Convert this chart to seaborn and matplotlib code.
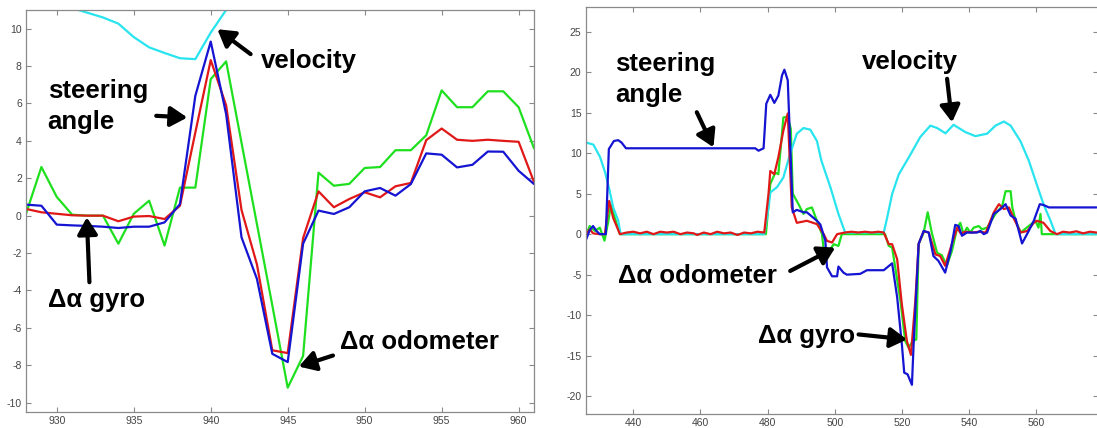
import matplotlib
matplotlib.use('Agg')
import matplotlib.pyplot as plt
import seaborn as sns

# ---- left panel: short window, one sample per step ----
left_x = list(range(928, 962))
left_odo = [0.1, 2.6, 1.0, 0.05, 0.0, 0.0, -1.5, 0.1, 0.8, -1.6, 1.5, 1.5, 7.3, 8.25,
            3.9, -0.45, -4.8, -9.2, -7.5, 2.3, 1.6, 1.7, 2.55, 2.6, 3.5, 3.5, 4.3, 6.7,
            5.8, 5.8, 6.65, 6.65, 5.8, 3.6]
left_gyro = [0.36, 0.18, 0.1, 0.02, 0.0, 0.0, -0.3, -0.05, -0.02, -0.18, 0.53, 4.45,
             8.32, 5.9, 0.3, -2.6, -7.2, -7.35, -1.2, 1.3, 0.45, 0.89, 1.25, 0.98, 1.57,
             1.75, 4.04, 4.66, 4.06, 4.0, 4.06, 4.0, 3.95, 1.8]
left_steer = [0.59, 0.53, -0.48, -0.52, -0.55, -0.59, -0.66, -0.59, -0.59, -0.36, 0.62,
              6.41, 9.31, 5.43, -1.16, -3.38, -7.39, -7.83, -1.5, 0.27, 0.09, 0.45, 1.3,
              1.48, 1.07, 1.69, 3.33, 3.26, 2.58, 2.72, 3.43, 3.42, 2.4, 1.69]
left_vel_x = list(range(931, 943))
left_vel = [11.1, 10.85, 10.6, 10.27, 9.55, 9.0, 8.7, 8.42, 8.37, 9.79, 11.0, 12.5]

# ---- right panel: longer run ----
steer_x = [426, 427, 428, 429, 430, 431.8, 432.7, 434.2, 435.5, 436.5, 437.8, 476.3,
           477.3, 478.8, 479.6, 480.8, 482, 483.2, 484.3, 485, 486, 487.5, 488.7, 490.7,
           491.7, 494.7, 495.7, 497.2, 497.7, 499.2, 500.7, 501.1, 502.6, 503.6, 507.6,
           509.6, 514.6, 517.1, 518.6, 520, 520.7, 521.7, 523, 523.5, 525, 526.5, 528,
           529.4, 530.9, 532.9, 534.5, 535.9, 536.9, 537.9, 539.4, 542.4, 543.4, 544.4,
           545.4, 547.4, 549.4, 550.9, 552.4, 553.9, 555.8, 557.8, 559.3, 561.1, 562.2,
           563.8, 578]
steer_y = [-0.6, 0.5, 1.0, 0.4, 0.0, 0.0, 10.5, 11.5, 11.6, 11.3, 10.6, 10.6,
           10.3, 10.6, 16.1, 17.2, 16.2, 17.1, 19.6, 20.3, 19.0, 2.7, 3.0, 2.7,
           2.7, 1.65, 1.2, -0.8, -4.1, -5.2, -5.2, -4.0, -4.75, -5.0, -4.9,
           -4.45, -4.45, -3.6, -7.8, -13.6, -17.1, -17.3, -18.6, -13.6, -1.2, 0.4, 0.2,
           -2.7, -3.3, -4.75, -2.1, 1.15, 1.0, -0.2, 0.2, 0.2, 0.4, 0.0,
           0.2, 2.5, 3.1, 3.7, 2.3, 1.9, -1.15, 0.4, 1.65, 3.7, 3.6,
           3.3, 3.3]

gyro_x = [426, 427, 428, 430, 431.5, 432.8, 434, 436, 438, 440, 442, 444, 446, 448, 450,
          452, 454, 456, 458, 459, 461, 463, 465, 467, 469, 471, 473, 475, 477, 479,
          480.3, 480.8, 482, 483.2, 484.7, 486, 487.2, 488.7, 491.7, 494.7, 496.7, 497.7,
          499.2, 500.7, 503, 505, 507, 509, 511, 513, 514.6, 516.1, 517.1, 518.6, 520,
          521.5, 522.7, 524, 525, 526.5, 528, 530, 531.4, 532.9, 534.9, 536.5, 537.5,
          539, 541, 543, 545, 547.4, 548.9, 550.4, 551.9, 553.4, 555.4, 557.4, 559.3,
          560.2, 562.2, 564.2, 566.2, 568, 570, 572, 574, 576, 578]
gyro_y = [0.0, 0.6, 0.1, 0.0, 0.0, 4.1, 2.0, 0.0, 0.2, 0.3, 0.1, 0.3, 0.0, 0.3, 0.2,
          0.3, 0.0, 0.2, 0.1, -0.1, 0.2, 0.0, 0.3, 0.1, 0.2, -0.1, 0.2, 0.1, 0.3, 0.2,
          5.1, 7.8, 7.4, 9.5, 12.8, 14.9, 3.3, 1.4, 1.65, 1.24, 0.0, -0.83,
          -1.03, 0.0, 0.2, 0.3, 0.2, 0.3, 0.2, 0.3, 0.2, -1.24, -1.24, -3.1, -8.7,
          -13.2, -14.9, -8.3, -1.2, 0.35, 0.2, -2.5, -2.7, -3.9, -1.2, 0.8, 0.1,
          0.3, 0.2, 0.3, 0.2, 2.7, 3.7, 3.1, 3.3, 1.9, 0.2, 0.4, 1.4,
          1.65, 1.4, 0.4, 0.0, 0.3, 0.2, 0.35, 0.1, 0.3, 0.2]

odo_x = [426, 427, 428.5, 430, 431.4, 432.5, 433.3, 434.5, 436, 479.5, 480.8, 482.3,
         483.2, 484.7, 486, 486.9, 487.5, 489.2, 490.7, 491.7, 493.2, 494.7, 496.2,
         496.7, 498.7, 499.7, 501.1, 502.1, 515, 516.1, 517.1, 519.6, 521, 522, 523.3,
         524.3, 525, 526.5, 527.7, 528.9, 530.5, 531.9, 533.4, 534.9, 536.5, 537.4,
         538.4, 539.4, 540.4, 541.4, 542.9, 543.9, 545.4, 547.9, 549.9, 550.9, 552.4,
         552.9, 553.9, 555.4, 557.8, 559.8, 560.7, 561.3, 561.7, 578]
odo_y = [0.0, 1.0, 0.4, 0.8, -0.8, 1.5, 3.6, 2.0, 0.0, 0.0, 6.2, 7.6,
         7.4, 14.4, 14.5, 13.0, 5.0, 3.7, 2.5, 3.1, 3.3, 1.65, 0.0,
         -1.86, -1.86, -1.24, -1.45, 0.0, 0.0, -1.45, -1.65, -8.3, -13.2, -14.0, -13.2,
         -13.0, -1.2, 0.2, 2.7, 0.2, -2.3, -2.6, -3.9, -2.1, 0.8, 1.4,
         0.0, 0.8, 0.2, 0.8, 1.0, 0.6, 0.8, 2.5, 3.5, 5.3, 5.3,
         3.3, 1.65, 0.2, 1.0, 1.65, 0.8, 2.5, 0.0, 0.0]

vel_x = [426, 428.1, 430.1, 431.6, 432.8, 434, 435.5, 436.2, 479, 480.3, 480.8, 482.8,
         484.7, 486.7, 488.7, 490.7, 492.7, 494.7, 496, 498.7, 501.1, 503.1, 514.6,
         515.6, 517.1, 519.1, 522.1, 525.5, 528.5, 530.5, 533, 535.4, 538.9, 541.9,
         545.4, 547.9, 550.4, 552.4, 555.3, 557.8, 560.3, 562.2, 564.3, 565.8, 578]
vel_y = [11.3, 11.05, 9.5, 7.6, 5.6, 3.3, 1.65, 0.0, 0.0, 3.3, 5.15, 5.8,
         7.0, 9.9, 12.4, 13.1, 12.9, 11.5, 9.1, 5.8, 2.5, 0.2, 0.2,
         2.0, 4.95, 7.4, 9.5, 12.0, 13.4, 13.1, 12.45, 13.5, 12.6, 12.1,
         12.4, 13.4, 13.9, 13.4, 11.5, 9.1, 6.0, 3.7, 1.65, 0.0, 0.0]

GREEN = '#1ee01e'
RED = '#e01818'
BLUE = '#1414d2'
CYAN = '#28e4ee'

sns.set_style('white')
plt.rcParams['font.family'] = ['Liberation Sans', 'DejaVu Sans']
plt.rcParams['axes.unicode_minus'] = False

fig = plt.figure(figsize=(10.97, 4.28), dpi=100)
ax1 = fig.add_axes([0.0237, 0.0374, 0.4631, 0.9393])
ax2 = fig.add_axes([0.5339, 0.0327, 0.4666, 0.9502])

lw = 1.6
sns.lineplot(x=left_vel_x, y=left_vel, ax=ax1, color=CYAN, lw=lw)
sns.lineplot(x=left_x, y=left_odo, ax=ax1, color=GREEN, lw=lw)
sns.lineplot(x=left_x, y=left_gyro, ax=ax1, color=RED, lw=lw)
sns.lineplot(x=left_x, y=left_steer, ax=ax1, color=BLUE, lw=lw)

sns.lineplot(x=odo_x, y=odo_y, ax=ax2, color=GREEN, lw=lw)
sns.lineplot(x=vel_x, y=vel_y, ax=ax2, color=CYAN, lw=lw)
sns.lineplot(x=gyro_x, y=gyro_y, ax=ax2, color=RED, lw=lw)
sns.lineplot(x=steer_x, y=steer_y, ax=ax2, color=BLUE, lw=lw)

ax1.set_xlim(928, 961)
ax1.set_ylim(-10.5, 11)
ax1.set_xticks(range(930, 961, 5))
ax1.set_yticks(range(-10, 11, 2))
ax2.set_xlim(425.8, 578.3)
ax2.set_ylim(-22.2, 28)
ax2.set_xticks(range(440, 561, 20))
ax2.set_yticks(range(-20, 26, 5))

for ax in (ax1, ax2):
    ax.set_xlabel('')
    ax.set_ylabel('')
    for s in ax.spines.values():
        s.set_color('#8a8a8a')
        s.set_linewidth(0.9)
    ax.tick_params(direction='in', length=3.5, width=0.8, color='#8a8a8a',
                   labelsize=7.5, labelcolor='#444444', top=True, right=True,
                   bottom=True, left=True, pad=3)

txt = dict(fontsize=18.5, fontweight='bold', color='black')
arr = dict(arrowstyle='-|>,head_length=0.5,head_width=0.3', lw=3, color='black',
           shrinkA=0, shrinkB=0, mutation_scale=20)

# left panel labels
ax1.text(929.4, 6.3, 'steering', **txt)
ax1.text(929.4, 4.65, 'angle', **txt)
ax1.annotate('', xy=(938.48, 5.25), xytext=(936.46, 5.34), arrowprops=arr)
ax1.text(943.24, 7.92, 'velocity', **txt)
ax1.annotate('', xy=(940.43, 9.97), xytext=(942.59, 8.64), arrowprops=arr)
ax1.text(929.4, -4.9, 'Δα gyro', **txt)
ax1.annotate('', xy=(931.95, -0.09), xytext=(932.12, -3.56), arrowprops=arr)
ax1.text(948.42, -7.12, 'Δα odometer', **txt)
ax1.annotate('', xy=(945.72, -8.07), xytext=(947.94, -7.48), arrowprops=arr)

# right panel labels
ax2.text(434.54, 20.2, 'steering', **txt)
ax2.text(434.54, 16.29, 'angle', **txt)
ax2.annotate('', xy=(463.86, 10.72), xytext=(458.9, 15.05), arrowprops=arr)
ax2.text(508.12, 20.42, 'velocity', **txt)
ax2.annotate('', xy=(534.96, 13.81), xytext=(533.47, 19.18), arrowprops=arr)
ax2.text(435.53, -5.99, 'Δα odometer', **txt)
ax2.annotate('', xy=(500.15, -1.66), xytext=(486.73, -4.54), arrowprops=arr)
ax2.text(477.28, -13.42, 'Δα gyro', **txt)
ax2.annotate('', xy=(521.54, -13.0), xytext=(507.1, -12.38), arrowprops=arr)

fig.savefig('out.png', dpi=100)
